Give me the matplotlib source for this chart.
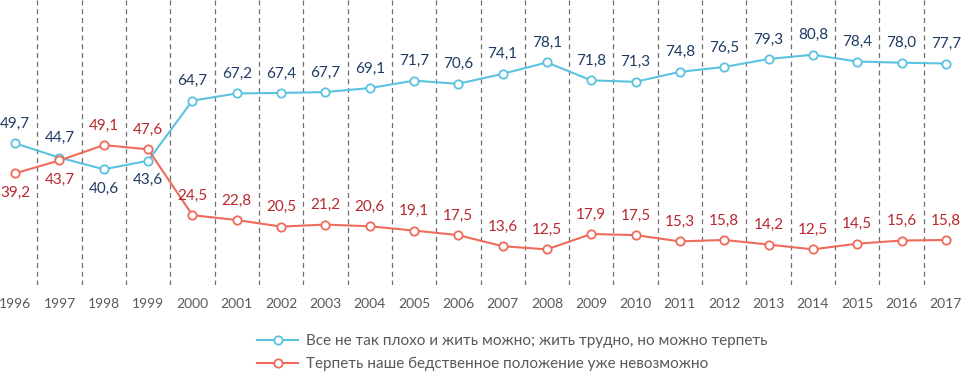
import matplotlib
matplotlib.use("Agg")
import matplotlib.pyplot as plt
from matplotlib.lines import Line2D

plt.rcParams['font.family'] = ['Lato', 'DejaVu Sans']

years = [str(y) for y in range(1996, 2018)]
series_ok = [49.7, 44.7, 40.6, 43.6, 64.7, 67.2, 67.4, 67.7, 69.1, 71.7, 70.6,
             74.1, 78.1, 71.8, 71.3, 74.8, 76.5, 79.3, 80.8, 78.4, 78.0, 77.7]
series_bad = [39.2, 43.7, 49.1, 47.6, 24.5, 22.8, 20.5, 21.2, 20.6, 19.1, 17.5,
              13.6, 12.5, 17.9, 17.5, 15.3, 15.8, 14.2, 12.5, 14.5, 15.6, 15.8]
label_ok = "Все не так плохо и жить можно; жить трудно, но можно терпеть"
label_bad = "Терпеть наше бедственное положение уже невозможно"

c_ok = "#5BC3E0"
c_bad = "#EE6B5B"
t_ok = "#1F3A63"
t_bad = "#B8282E"
gray = "#595959"

W, H = 964, 372
fig = plt.figure(figsize=(W / 100, H / 100), dpi=100)
ax = fig.add_axes([-7 / W, 87 / H, 975 / W, 285 / H])

x = list(range(len(years)))
for b in range(len(years) + 1):
    ax.axvline(b - 0.5, color="#6f6f6f", lw=0.9, ls=(0, (4, 3)), zorder=1)

ax.plot(x, series_ok, color=c_ok, lw=1.5, marker='o', ms=6, mfc='white',
        mec=c_ok, mew=1.3, zorder=3)
ax.plot(x, series_bad, color=c_bad, lw=1.5, marker='o', ms=6, mfc='white',
        mec=c_bad, mew=1.3, zorder=3)

def fmt(v):
    return f"{v:.1f}".replace('.', ',')

for i, (a, b) in enumerate(zip(series_ok, series_bad)):
    a_above = a >= b or i == 1
    if i in (2, 3):
        a_above = False
    b_above = not a_above if i < 4 else True
    if i == 1:
        b_above = False
    for v, above, col in ((a, a_above, t_ok), (b, b_above, t_bad)):
        ax.annotate(fmt(v), (i, v), xytext=(0, 9 if above else -9),
                    textcoords='offset points', ha='center',
                    va='bottom' if above else 'top', fontsize=11, color=col)

ax.set_xlim(-0.5, len(years) - 0.5)
ax.set_ylim(0, 100)
ax.set_xticks(x)
ax.set_xticklabels(years)
ax.tick_params(axis='x', length=0, pad=9, labelsize=10, labelcolor=gray)
ax.set_yticks([])
for s in ax.spines.values():
    s.set_visible(False)

handles = [Line2D([], [], color=c_ok, lw=1.5, marker='o', ms=6, mfc='white', mec=c_ok, mew=1.3),
           Line2D([], [], color=c_bad, lw=1.5, marker='o', ms=6, mfc='white', mec=c_bad, mew=1.3)]
fig.legend(handles, [label_ok, label_bad], loc='upper left',
           bbox_to_anchor=(257 / W, 1 - 334 / H), frameon=False,
           fontsize=11, labelcolor=gray, handlelength=2.7, handletextpad=0.5,
           labelspacing=0.6, borderpad=0, borderaxespad=0)

fig.savefig("out.png", dpi=100)
